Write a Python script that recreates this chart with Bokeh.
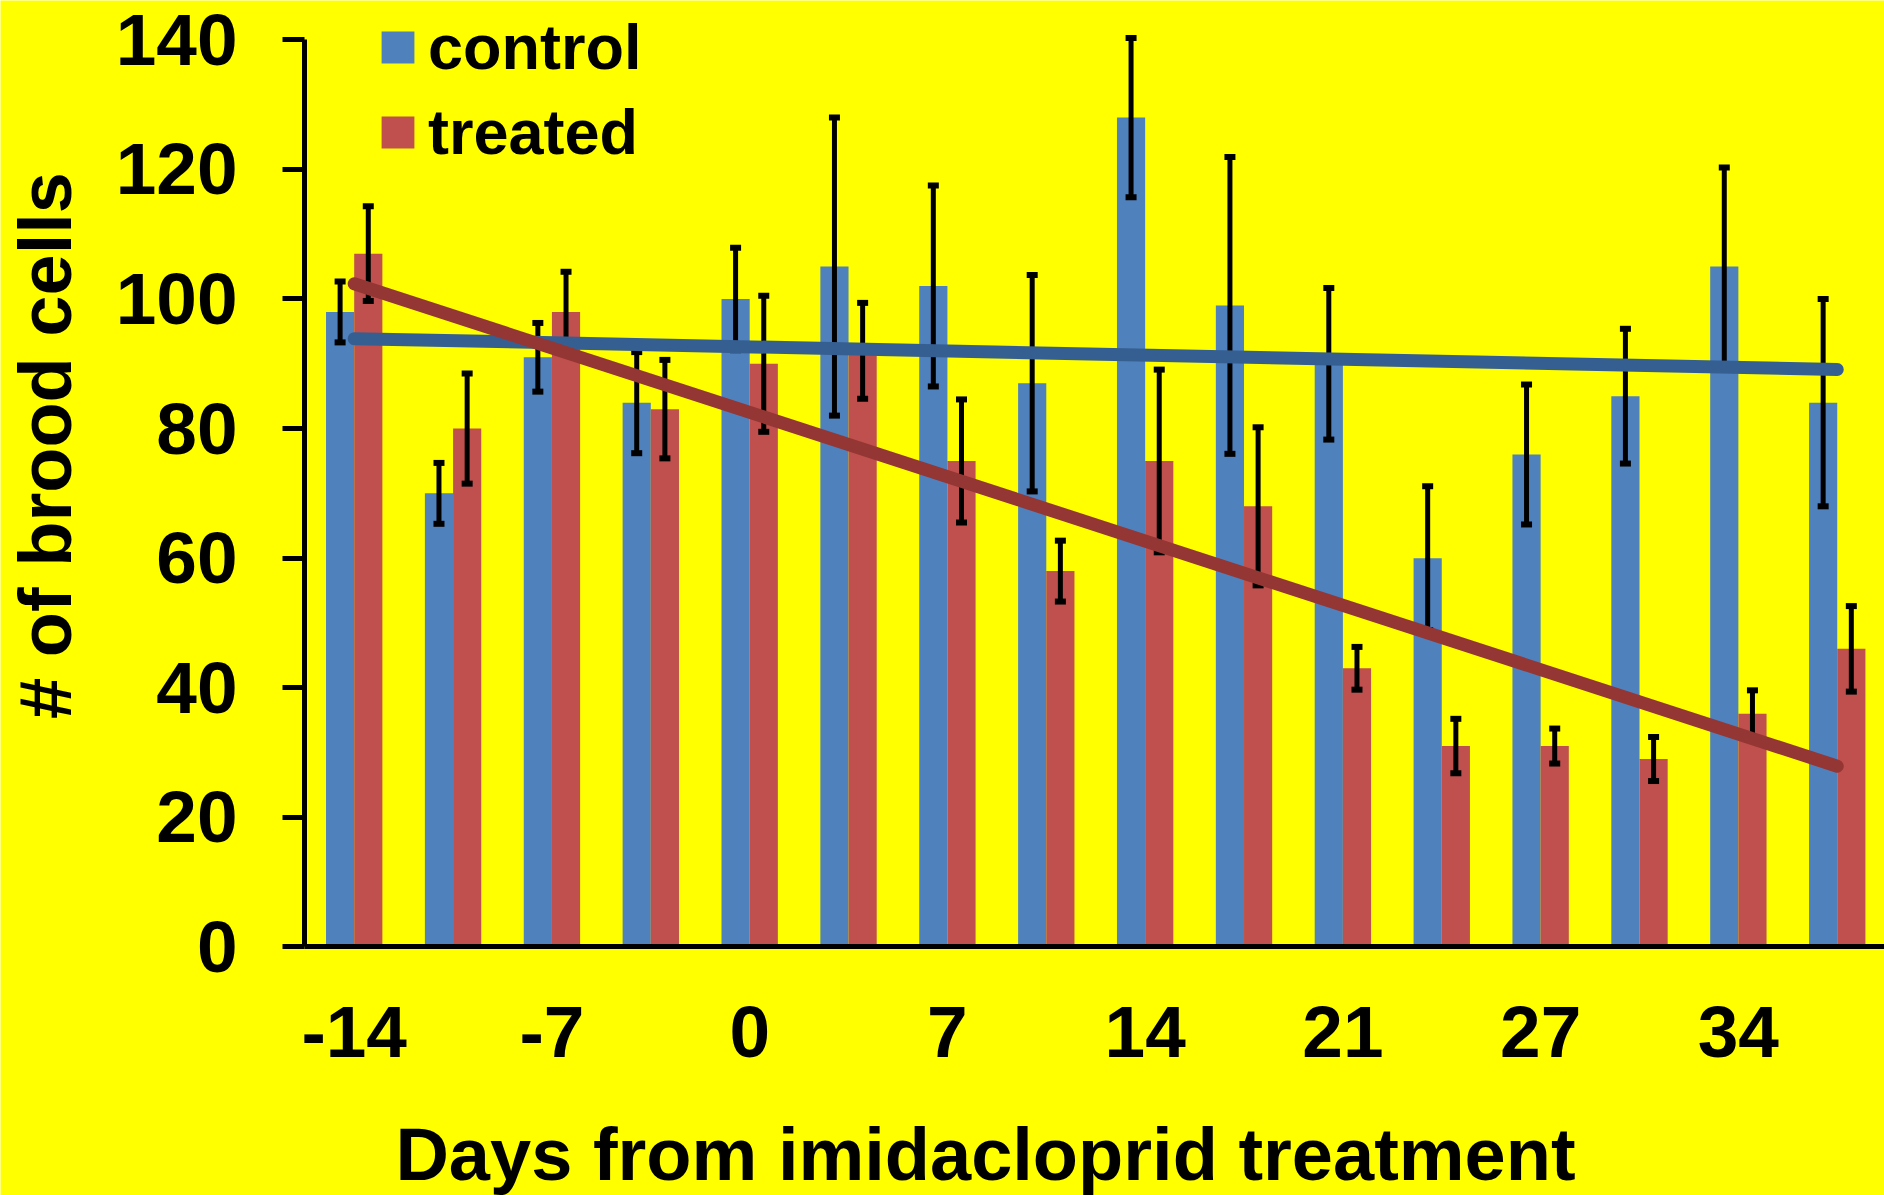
import numpy as np
from bokeh.plotting import figure
from bokeh.models import ColumnDataSource, FixedTicker, Range1d, Legend, LegendItem, Label
from bokeh.transform import dodge
from bokeh.embed import file_html
from bokeh.resources import INLINE

# ---- data ----
groups = list(range(1, 17))
day_tick_positions = [1, 3, 5, 7, 9, 11, 13, 15]
day_labels = ["-14", "-7", "0", "7", "14", "21", "27", "34"]

control = [98, 70, 91, 84, 100, 105, 102, 87, 128, 99, 90, 60, 76, 85, 105, 84]
control_err = [4.7, 4.7, 5.3, 7.8, 7.9, 23.0, 15.5, 16.7, 12.3, 22.9, 11.7, 11.1, 10.8, 10.4, 15.3, 16.0]
treated = [107, 80, 98, 83, 90, 92, 75, 58, 75, 68, 43, 31, 31, 29, 36, 46]
treated_err = [7.3, 8.5, 6.2, 7.6, 10.5, 7.4, 9.5, 4.7, 14.1, 12.2, 3.3, 4.2, 2.7, 3.4, 3.6, 6.6]

y_ticks = [0, 20, 40, 60, 80, 100, 120, 140]

# ---- styles / layout ----
BG = "#FFFF00"
BLUE = "#4F81BD"
RED = "#C0504D"
BLUE_TREND = "#365F91"
RED_TREND = "#943634"
FONT = "Liberation Sans"
BAR_W = 0.285
OFF = BAR_W / 2
W, H = 1884, 1195
X0, X1 = -2.5774, 16.478      # visible x extent (group units)
Y0, Y1 = -38.37, 146.07       # visible y extent
Y_AXIS_AT = 0.4974            # where the y axis stands

src = ColumnDataSource(dict(
    group=groups,
    control=control,
    treated=treated,
    c_lo=[v - e for v, e in zip(control, control_err)],
    c_hi=[v + e for v, e in zip(control, control_err)],
    t_lo=[v - e for v, e in zip(treated, treated_err)],
    t_hi=[v + e for v, e in zip(treated, treated_err)],
))

p = figure(width=W, height=H, output_backend="svg", toolbar_location=None,
           x_range=Range1d(X0, X1), y_range=Range1d(Y0, Y1), min_border=0)

p.background_fill_color = BG
p.border_fill_color = BG
p.outline_line_color = None
p.xgrid.visible = False
p.ygrid.visible = False

xb = dodge("group", -OFF, range=p.x_range)
xr = dodge("group", OFF, range=p.x_range)

rb = p.vbar(x=xb, top="control", width=BAR_W, source=src, fill_color=BLUE, line_color=None)
rr = p.vbar(x=xr, top="treated", width=BAR_W, source=src, fill_color=RED, line_color=None)

# error bars
for xx, lo, hi in ((xb, "c_lo", "c_hi"), (xr, "t_lo", "t_hi")):
    p.segment(x0=xx, y0=lo, x1=xx, y1=hi, source=src, line_color="black", line_width=5)
    p.scatter(x=xx, y=lo, source=src, marker="dash", size=11, line_color="black", line_width=6)
    p.scatter(x=xx, y=hi, source=src, marker="dash", size=11, line_color="black", line_width=6)

# linear trend lines fitted to each series
ends = [groups[0], groups[-1]]
for vals, col in ((control, BLUE_TREND), (treated, RED_TREND)):
    coef = np.polyfit(groups, vals, 1)
    p.line(x=ends, y=list(np.polyval(coef, ends)), line_color=col, line_width=13, line_cap="round")

# axes, placed at fixed data locations
for ax in (p.xaxis[0], p.yaxis[0]):
    ax.axis_line_width = 5
    ax.axis_line_color = "black"
    ax.major_label_text_font = FONT
    ax.major_label_text_font_style = "bold"
    ax.major_label_text_font_size = "73px"
    ax.major_label_text_color = "black"
    ax.minor_tick_line_color = None

p.xaxis.fixed_location = 0
p.xaxis.bounds = (Y_AXIS_AT, X1)
p.xaxis.ticker = FixedTicker(ticks=day_tick_positions)
p.xaxis.major_label_overrides = {t: l for t, l in zip(day_tick_positions, day_labels)}
p.xaxis.major_tick_line_color = None
p.xaxis.major_tick_out = 0
p.xaxis.major_tick_in = 0
p.xaxis.major_label_standoff = 60

p.yaxis.fixed_location = Y_AXIS_AT
p.yaxis.bounds = (0, 140)
p.yaxis.ticker = FixedTicker(ticks=y_ticks)
p.yaxis.major_tick_line_width = 5
p.yaxis.major_tick_line_color = "black"
p.yaxis.major_tick_out = 22
p.yaxis.major_tick_in = 0
p.yaxis.major_label_standoff = 45

# axis titles
p.add_layout(Label(x=45, y=H - 445, x_units="screen", y_units="screen", text="# of brood cells",
                   angle=np.pi / 2, text_align="center", text_baseline="middle",
                   text_font=FONT, text_font_style="bold", text_font_size="74px", text_color="black"))
p.add_layout(Label(x=985, y=41, x_units="screen", y_units="screen",
                   text="Days from imidacloprid treatment",
                   text_align="center", text_baseline="alphabetic",
                   text_font=FONT, text_font_style="bold", text_font_size="74px", text_color="black"))

legend = Legend(items=[LegendItem(label="control", renderers=[rb]),
                       LegendItem(label="treated", renderers=[rr])],
                location=(377, 1027), orientation="vertical",
                label_text_font=FONT, label_text_font_style="bold", label_text_font_size="63px",
                label_text_color="black", glyph_width=41, glyph_height=40, label_standoff=10,
                spacing=13, padding=0, margin=0, border_line_color=None, background_fill_alpha=0)
p.add_layout(legend, "center")

open("out.html", "w").write(file_html(p, INLINE))
